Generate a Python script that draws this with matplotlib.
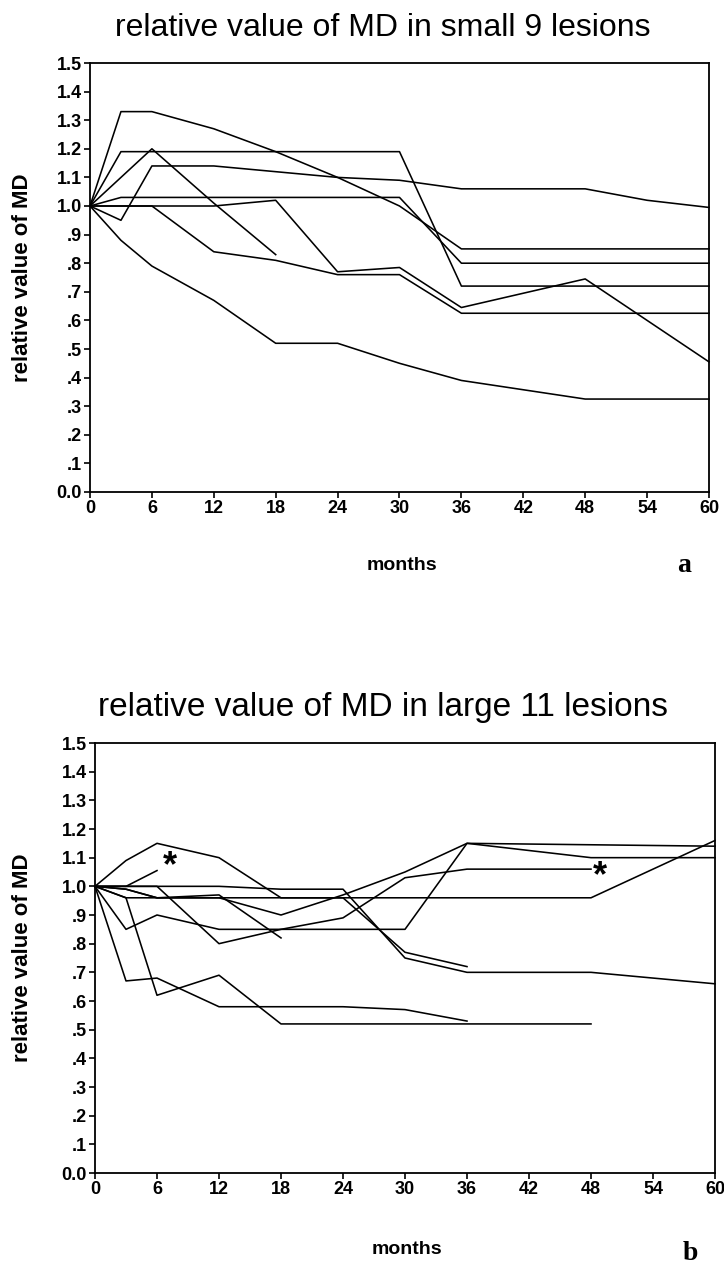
import matplotlib
matplotlib.use("Agg")
import matplotlib.pyplot as plt

# panel a: small 9 lesions (months, relative MD)
small_months = [
    [0, 3, 6, 12, 18, 24, 30, 36, 60],
    [0, 3, 30, 36, 60],
    [0, 6, 12, 18],
    [0, 3, 6, 12, 18, 24, 30, 36, 48, 54, 60],
    [0, 3, 30, 36, 60],
    [0, 3, 6, 12, 18, 24, 30, 36, 48, 60],
    [0, 3, 6, 12, 18, 24, 30, 36, 60],
    [0, 3, 6, 12, 18, 24, 30, 36, 48, 60],
]
small_values = [
    [1.0, 1.33, 1.33, 1.27, 1.19, 1.10, 1.0, 0.85, 0.85],
    [1.0, 1.19, 1.19, 0.72, 0.72],
    [1.0, 1.20, 1.01, 0.83],
    [1.0, 0.95, 1.14, 1.14, 1.12, 1.10, 1.09, 1.06, 1.06, 1.02, 0.995],
    [1.0, 1.03, 1.03, 0.80, 0.80],
    [1.0, 1.0, 1.0, 1.0, 1.02, 0.77, 0.785, 0.645, 0.745, 0.455],
    [1.0, 1.0, 1.0, 0.84, 0.81, 0.76, 0.76, 0.625, 0.625],
    [1.0, 0.88, 0.79, 0.67, 0.52, 0.52, 0.45, 0.39, 0.325, 0.325],
]

# panel b: large 11 lesions
large_months = [
    [0, 3, 6, 12, 18, 24, 30, 36],
    [0, 6, 12, 18, 24, 30, 36, 48, 60],
    [0, 3, 6],
    [0, 3, 48, 60],
    [0, 3, 6, 12, 18],
    [0, 3, 6, 12, 18, 24, 30, 36, 48],
    [0, 3, 6, 12, 18, 24, 30, 36, 48, 60],
    [0, 3, 6, 12, 18, 24, 30, 36, 60],
    [0, 3, 6, 12, 18, 24, 30, 36],
    [0, 3, 6, 12, 18, 48],
]
large_values = [
    [1.0, 1.09, 1.15, 1.10, 0.96, 0.96, 0.77, 0.72],
    [1.0, 1.0, 1.0, 0.99, 0.99, 0.75, 0.70, 0.70, 0.66],
    [1.0, 1.0, 1.055],
    [1.0, 0.96, 0.96, 1.16],
    [1.0, 0.99, 0.96, 0.97, 0.82],
    [1.0, 1.0, 1.0, 0.80, 0.85, 0.89, 1.03, 1.06, 1.06],
    [1.0, 0.99, 0.96, 0.96, 0.90, 0.97, 1.05, 1.15, 1.10, 1.10],
    [1.0, 0.85, 0.90, 0.85, 0.85, 0.85, 0.85, 1.15, 1.14],
    [1.0, 0.67, 0.68, 0.58, 0.58, 0.58, 0.57, 0.53],
    [1.0, 0.96, 0.62, 0.69, 0.52, 0.52],
]
star_points = [(7.3, 1.07), (48.9, 1.035)]

x_ticks = [0, 6, 12, 18, 24, 30, 36, 42, 48, 54, 60]
y_ticks = [1.5, 1.4, 1.3, 1.2, 1.1, 1.0, 0.9, 0.8, 0.7, 0.6, 0.5, 0.4, 0.3, 0.2, 0.1, 0.0]
y_labels = ["1.5", "1.4", "1.3", "1.2", "1.1", "1.0", ".9", ".8", ".7", ".6",
            ".5", ".4", ".3", ".2", ".1", "0.0"]

plt.rcParams["font.family"] = ["Liberation Sans", "DejaVu Sans"]

W, H = 724, 1269
fig = plt.figure(figsize=(W / 100, H / 100), dpi=100)


def panel(box, months, values, title, title_size, title_base, letter, letter_xy, months_y):
    left, top, right, bottom = box
    ax = fig.add_axes([left / W, 1 - bottom / H, (right - left) / W, (bottom - top) / H])
    for m, v in zip(months, values):
        ax.plot(m, v, color="black", linewidth=1.15, clip_on=False)
    ax.set_xlim(0, 60)
    ax.set_ylim(0, 1.5)
    ax.set_xticks(x_ticks)
    ax.set_xticklabels([str(t) for t in x_ticks], fontsize=13, fontweight="bold")
    ax.set_yticks(y_ticks)
    ax.set_yticklabels(y_labels, fontsize=13, fontweight="bold")
    ax.tick_params(direction="out", length=4, width=1.2, pad=2, colors="black")
    for s in ax.spines.values():
        s.set_linewidth(1.3)
    cx = (left + right) / 2
    fig.text(383 / W, 1 - title_base / H, title, fontsize=title_size, ha="center", va="baseline")
    fig.text(23 / W, 1 - (top + bottom) / 2 / H, "relative value of MD", fontsize=16,
             fontweight="bold", rotation=90, ha="center", va="center")
    fig.text((cx + 2) / W, 1 - months_y / H, "months", fontsize=14, fontweight="bold",
             ha="center", va="center")
    fig.text(letter_xy[0] / W, 1 - letter_xy[1] / H, letter, fontsize=20, fontweight="bold",
             family="Liberation Serif", ha="center", va="center")
    return ax


panel((90, 63, 709, 492), small_months, small_values,
      "relative value of MD in small 9 lesions", 23, 36, "a", (684, 565), 565)
ax_b = panel((95, 743, 715, 1173), large_months, large_values,
             "relative value of MD in large 11 lesions", 24, 716, "b", (690, 1254), 1249)
for sx, sy in star_points:
    ax_b.text(sx, sy, "*", fontsize=26, fontweight="bold", ha="center", va="center")

fig.savefig("out.png", dpi=100)
